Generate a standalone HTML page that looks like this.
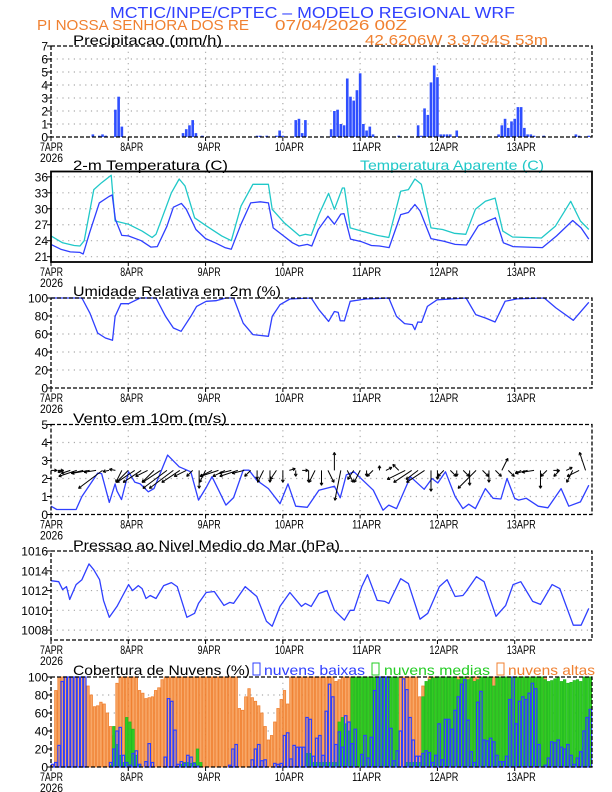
<!DOCTYPE html>
<html><head><meta charset="utf-8"><style>
html,body{margin:0;padding:0;background:#fff}
svg{display:block;font-family:"Liberation Sans",sans-serif}
</style></head><body>
<svg id="chart" width="612" height="792" viewBox="0 0 612 792" xmlns="http://www.w3.org/2000/svg">
<g id="texts">
<text x="110" y="18" font-size="16" fill="#2f3fff" textLength="405" lengthAdjust="spacingAndGlyphs">MCTIC/INPE/CPTEC – MODELO REGIONAL WRF</text>
<text x="37" y="30" font-size="15" fill="#f08030" textLength="212" lengthAdjust="spacingAndGlyphs">PI NOSSA SENHORA DOS RE</text>
<text x="275" y="30" font-size="15" fill="#f08030" textLength="132" lengthAdjust="spacingAndGlyphs">07/04/2026 00Z</text>
<text x="73" y="45" font-size="14" fill="#000" textLength="149" lengthAdjust="spacingAndGlyphs">Precipitacao (mm/h)</text>
<text x="365" y="45" font-size="15" fill="#f08030" textLength="183" lengthAdjust="spacingAndGlyphs">42.6206W 3.9794S 53m</text>
<text x="73" y="170" font-size="14" fill="#000" textLength="155" lengthAdjust="spacingAndGlyphs">2-m Temperatura (C)</text>
<text x="360" y="170" font-size="14" fill="#20c8c8" textLength="184" lengthAdjust="spacingAndGlyphs">Temperatura Aparente (C)</text>
<text x="73" y="296" font-size="14" fill="#000" textLength="208" lengthAdjust="spacingAndGlyphs">Umidade Relativa em 2m (%)</text>
<text x="73" y="423" font-size="14" fill="#000" textLength="154" lengthAdjust="spacingAndGlyphs">Vento em 10m (m/s)</text>
<text x="73" y="550" font-size="14" fill="#000" textLength="267" lengthAdjust="spacingAndGlyphs">Pressao ao Nivel Medio do Mar (hPa)</text>
<text x="73" y="675" font-size="14" fill="#000" textLength="177" lengthAdjust="spacingAndGlyphs">Cobertura de Nuvens (%)</text>
<rect x="253" y="663" width="7" height="12" fill="none" stroke="#2f3fff"/>
<text x="264" y="675" font-size="14" fill="#2f3fff" textLength="101" lengthAdjust="spacingAndGlyphs">nuvens baixas</text>
<rect x="372" y="663" width="7" height="12" fill="none" stroke="#22cc22"/>
<text x="384" y="675" font-size="14" fill="#22cc22" textLength="106" lengthAdjust="spacingAndGlyphs">nuvens medias</text>
<rect x="497" y="663" width="7" height="12" fill="none" stroke="#f08030"/>
<text x="508" y="675" font-size="14" fill="#f08030" textLength="87" lengthAdjust="spacingAndGlyphs">nuvens altas</text>
</g>
</svg>
<script>
// ---- data ----
const dayLabels = ["7APR","8APR","9APR","10APR","11APR","12APR","13APR"];
const precipHours = [13,15,16,17,20,21,22,41,42,43,44,45,47,64,65,67,70,71,72,76,77,78,79,84,87,88,89,90,91,92,93,94,95,96,97,98,99,100,108,114,115,116,117,118,119,120,121,122,123,124,126,133,139,140,141,142,143,144,145,146,147,148,149,150,153,163,164,167];
const precipValues = [0.2,0.1,0.2,0.1,2.1,3.1,0.8,0.3,0.6,0.9,1.3,0.3,0.1,0.1,0.1,0.1,0.1,0.5,0.1,1.3,1.4,0.3,1.3,0.05,0.6,2.0,2.1,1.0,0.9,4.5,3.1,2.8,3.6,4.9,1.0,0.5,0.8,0.2,0.1,0.9,0.1,2.2,1.7,4.2,5.5,4.6,0.2,0.2,0.2,0.2,0.5,0.05,0.2,0.9,1.4,0.7,1.2,1.4,2.3,2.3,0.7,0.2,0.2,0.1,0.1,0.2,0.1,0.1];
const precipTicks = [0,1,2,3,4,5,6,7];

const tempHours = [0,3,6,9,10,12,15,18,19,20,22,24,28,31,33,36,38,40.5,42,45,48,51,54,56,59,62,65,67.5,69,72,75,77,79.6,81,83,86,88,90,91,93,96.5,99.5,102,105,108.6,111,113,114.6,118,122,125.5,129,132.7,135.7,138,140.5,143.5,152.6,157,162,164.6,167];
const tempValues = [23.3,22.4,21.9,21.8,21.5,25.5,31.1,32.3,32.6,28,25,24.9,24,22.8,22.9,26.7,30.3,31,29.9,26.1,24.4,23.6,22.7,22.4,27.1,31.1,31.3,31.1,26.4,25,23.6,23,23.3,23,26.1,28.6,27.1,29,29.1,24.3,23.8,23.1,23,22.7,28.9,29.3,30.8,29.6,24.4,23.9,23.3,23.2,26.8,27.7,28.3,23.6,22.9,22.7,24.9,27.8,26.4,24.3];
const appHours = [0,3.6,7.2,9,10.3,13.3,15.7,18.7,19.9,24,28.3,31.4,32.6,37.4,39.8,41.6,44.6,48.2,53,56,59,62.7,67.5,68.7,72.4,77.2,79,80.8,83.2,86.2,88,90.5,91.1,92.9,96.5,101.3,104.9,108.6,111,113,115,118,121.6,125.2,128.8,131.8,134.9,137.9,140.3,143.3,152.3,156.6,161.4,164.4,167];
const appValues = [24.9,23.6,23.1,23,24,33.6,34.9,36.3,27.7,27.1,25.8,24.6,25.2,33,35.6,34.3,28.3,26.8,24.9,24,30.5,34.6,34.6,29.9,27.4,24.9,25.2,25,28.9,32.9,29.9,33.9,33.9,26.4,25.8,25,24.6,33.3,33.6,35.6,34.6,26.4,26.1,25.4,25.2,29.9,31.4,32,25.8,24.7,24.5,26.7,31.4,27.7,26.1];
const tempTicks = [21,24,27,30,33,36];

const rhHours = [0,9.6,12.1,14.5,16.9,19.1,19.9,21.7,24.1,27.7,32.6,35.6,38,40.4,43.4,45.2,48.2,51.2,54.3,56.7,59.7,62.7,67.5,68.7,71.1,74.2,80.8,83.2,86.2,88,89.2,89.8,91.1,92.9,97.7,104.9,107.3,109.8,112.2,113,113.9,115.1,116.9,119.9,128.9,131.9,134.9,137.9,141,144.7,153.2,156.8,162.2,167];
const rhValues = [100,100,83,61,55.6,53,79.6,93.7,93.7,100,100,79.6,66.7,63,79.6,90.7,96.3,97,100,100,72,59.3,57.4,79.6,92.6,98.9,100,87,74,85,84,74.8,74.5,96.3,98.9,100,79.6,71.5,70.5,64.8,73.3,73,90.7,98,100,81.5,77.8,73.3,96.3,99,100,89,75.2,95.2];
const rhTicks = [0,20,40,60,80,100];

const windHours = [0,1.8,7.8,9.6,11.5,14.5,15.7,18.1,19.9,20.5,21.9,24.1,26,27.7,30.2,32,36.2,39.8,43.4,45.8,48.2,50,51.8,54.3,56.7,59.7,61.5,63.9,67.5,71.1,73.6,76,79.6,83.2,88,89.8,91.7,94.1,100.1,103.1,104.9,107.3,111.6,115.9,118.3,120.1,122.5,125.5,127.9,129.7,131.8,134.9,137.3,139.7,141.6,144,145.2,147.6,151.3,154.3,158.4,160.8,164.4,167];
const windValues = [0.46,0.28,0.28,1.0,1.5,2.3,2.27,0.67,1.7,1.3,0.83,2.37,1.8,1.7,1.26,1.44,3.3,2.65,2.37,0.8,1.5,2.1,1.45,0.52,0.94,2.46,2.46,1.9,1.44,0.6,1.7,0.46,0.4,1.35,1.57,0.93,2.2,2.37,1.35,0.24,0.52,0.33,2.1,1.4,2.0,1.75,2.37,1.0,0.33,0.57,0.33,1.44,0.9,0.86,2.0,0.9,0.8,0.9,0.46,0.37,1.44,0.46,0.7,1.63];
const windTicks = [0,1,2,3,4,5];
const arrowU = [1,1,-1,-1.5,-3,-2,-3,-2,-4,-1,-1,-1,-2,-3,-3,-2,-2,-3,-4,-4,-3,-2,-1,0,-1,-2,-3,-2,-2,-3,-2,-1,0,-1,0,-1,0,1,0,1,0,-1,0,1,0,-1,1,-1,-1,0,-1,0,1,0,-1,-3,-3,-2,-3,0,0,-1,1,0,1,0,-3,1,0,1,1,1,0,-1,-2,-2,0,-1,1,-1,1,-1,-2,-1];
const arrowV = [0,0,-0.3,-0.5,-1,-0.5,-0.5,-0.3,-3,-0.2,0.2,-2,-2,-2,-2,-1,-2,-2,-3,-3,-2,-1,-1,-3,-2,-1,-1,-1,-0.5,-1,-0.5,-1,-1.5,-2,-2,-1.5,-2,0.3,-1,0,-2,-2,-2.5,-2,3,-5,-2,-1.5,-2,-1,-1,0.8,0.5,0,1,-1.5,-2,-1.5,-2,-3.5,-1.5,-1,-1,-1,-1,-2.5,-3,-1,-2,-1,2,-1,0,-0.5,-0.5,-0.3,-3,-1,0,-1,0.5,-2,-1,3];

const presHours = [0,2.4,3.6,4.8,5.8,7.8,9.6,11.8,13.3,15.1,16.3,18.1,20.5,22.3,24.1,25.3,27.1,28.3,29.5,30.8,32.6,35,37.4,39.2,42.2,44.6,45.8,48.2,50.7,53.7,55.5,56.7,60.3,63.9,66.9,68.7,71.1,74.2,77.8,79,80.8,83.2,85.7,88,91.1,92.9,94.1,96.5,98.3,101.3,103.7,104.9,108.6,111,114.6,117,120.6,123,125.5,127.9,128.9,132.1,134.5,138.2,141.2,143.5,145.9,147.2,149.6,152,155.6,158,162.2,164.6,167];
const presValues = [1013,1012.9,1012.1,1012.4,1011.1,1012.6,1013.1,1014.7,1014.1,1013.1,1011,1009.3,1010.4,1011.5,1012.6,1012,1012.5,1012.2,1011.2,1011.5,1011.2,1012.5,1012.8,1012.4,1009.3,1009.7,1010.7,1011.8,1011.9,1010.5,1010.8,1010.7,1012.4,1011.4,1008.9,1008.4,1010.4,1011.8,1010.4,1010.7,1010.4,1011.7,1012,1010,1009,1010,1010,1012.4,1013.6,1011,1010.9,1010.7,1013.2,1012.7,1009.1,1009.7,1012.4,1013.1,1011.4,1011.5,1011.9,1013.4,1012.9,1009.4,1010.5,1012.6,1012.9,1012.2,1010.9,1010.6,1012.6,1012.2,1008.5,1008.5,1010.2];
const presTicks = [1008,1010,1012,1014,1016];

const cloudHigh = [3,85,100,100,100,100,100,100,100,100,100,90,80,67,68,72,70,60,45,35,93,100,100,100,
100,100,100,85,82,76,77,78,85,88,97,100,100,100,100,100,100,100,100,100,100,100,100,100,
100,100,100,100,100,100,100,100,100,100,65,63,78,87,77,73,68,60,45,30,35,50,65,75,
85,70,100,100,100,100,100,100,100,100,100,100,100,100,100,100,95,97,100,100,100,100,100,100,
100,100,100,100,100,100,100,100,100,0,0,0,100,100,100,100,100,100,78,90,85,100,100,100,
100,100,100,100,100,100,100,100,100,100,100,100,100,100,100,100,100,100,100,100,100,100,100,100,
100,100,100,100,100,100,100,100,100,100,20,0,0,0,0,0,0,0,0,0,0,0,0,0];
const cloudMid = [0,0,0,0,0,0,0,0,0,0,0,0,0,0,0,0,0,0,2,45,25,13,5,55,
50,42,13,3,0,0,0,0,0,0,0,0,0,0,0,0,3,5,5,4,5,20,5,0,
0,0,0,0,0,0,0,0,0,0,0,0,0,0,0,0,0,0,0,0,0,0,0,0,
0,0,0,0,0,0,0,15,15,5,5,5,5,5,5,5,5,50,55,48,40,100,100,100,
100,100,100,100,100,100,100,100,100,100,100,100,0,0,5,5,5,5,5,78,95,97,99,99,
100,100,100,100,100,100,97,100,100,97,100,95,97,100,100,100,100,90,100,100,100,100,100,100,
100,100,100,100,100,100,100,100,100,97,95,96,98,100,95,97,93,94,96,97,95,100,100,100];
const cloudLow = [3,5,24,95,100,100,100,100,100,100,100,0,0,0,0,0,0,0,5,20,40,44,13,5,
2,15,18,3,0,6,26,5,0,0,0,11,76,73,41,3,6,4,13,11,4,1,0,0,
0,0,0,0,0,0,0,2,20,25,0,0,0,0,8,20,25,7,8,0,0,4,3,4,
35,38,9,24,22,22,22,55,53,12,32,35,13,62,92,78,25,39,22,57,50,26,42,0,
14,35,10,33,85,100,100,100,100,43,7,18,40,98,86,55,30,12,12,15,18,16,5,13,
48,8,53,53,42,63,78,92,97,52,17,5,72,84,30,29,32,28,13,6,6,12,75,100,
48,73,78,75,82,93,87,25,0,2,10,28,27,30,22,20,25,13,3,10,17,40,55,64];
const cloudTicks = [0,20,40,60,80,100];

// ---- layout ----
const NS = "http://www.w3.org/2000/svg";
const svg = document.getElementById('chart');
const X0 = 51, X1 = 592, HOURS = 168;
function xScale(h){ return X0 + h*(X1-X0)/HOURS; }
function mk(tag, attrs, parent){ const e = document.createElementNS(NS, tag); for (const k in attrs) e.setAttribute(k, attrs[k]); (parent||svg).appendChild(e); return e; }
function yScaleFor(p){ return v => p.bottom - (v-p.min)/(p.max-p.min)*(p.bottom-p.top); }

const panels = {
  precip:{top:46,bottom:137,min:0,max:7,ticks:precipTicks,dash:true,name:'precip'},
  temp:{top:171.5,bottom:262,min:20,max:37,ticks:tempTicks,dash:false,name:'temp'},
  rh:{top:298,bottom:388,min:0,max:100,ticks:rhTicks,dash:true,name:'rh'},
  wind:{top:424.5,bottom:514.5,min:0,max:5,ticks:windTicks,dash:true,name:'wind'},
  pres:{top:551,bottom:640,min:1007,max:1016,ticks:presTicks,dash:true,name:'pres'},
  cloud:{top:677,bottom:767,min:0,max:100,ticks:cloudTicks,dash:true,name:'cloud'}
};

function drawFrameAndGrid(p){
  const y = yScaleFor(p);
  const g = mk('g',{});
  
  
  p.ticks.forEach(t=>{
    const yy = y(t);
    if (yy>p.top+1 && yy<p.bottom-1) mk('line',{x1:X0,x2:X1,y1:yy,y2:yy,stroke:'#aaa','stroke-width':1.2,'stroke-dasharray':'1.2 4.5'},g);
    mk('line',{x1:X0-4,x2:X0,y1:yy,y2:yy,stroke:'#000','stroke-width':1},g);
    const tx = mk('text',{x:X0-3,y:yy+4.5,'font-size':12,'text-anchor':'end',fill:'#000'},svg);
    
    
    tx.textContent = t;
  });
  dayLabels.forEach((d,i)=>{
    const xx = xScale(i*24);
    if (i>0) mk('line',{x1:xx,x2:xx,y1:p.top,y2:p.bottom,stroke:'#aaa','stroke-width':1.2,'stroke-dasharray':'1.2 4.5'},g);
    mk('line',{x1:xx,x2:xx,y1:p.bottom,y2:p.bottom+4,stroke:'#000','stroke-width':1},g);
    const tx = mk('text',{x:xx+ (i==0?-11:-8),y:p.bottom+14,'font-size':12,fill:'#000',textLength:(d.length==4?23:29),lengthAdjust:'spacingAndGlyphs'},svg);
    
    
    tx.textContent = d;
  });
  const yr = mk('text',{x:X0-11,y:p.bottom+25,'font-size':12,fill:'#000',textLength:23,lengthAdjust:'spacingAndGlyphs'},svg);
  
  
  yr.textContent = '2026';
}
function drawFrame(p){
  const r = mk('rect',{x:X0,y:p.top,width:X1-X0,height:p.bottom-p.top,fill:'none',stroke:'#000','stroke-width':p.dash?1.3:1.8,'stroke-dasharray':p.dash?'4 2':'none'});
  
  
}
function drawLine(p, hours, vals, color, name){
  const y = yScaleFor(p);
  const d = hours.map((h,i)=>(i?'L':'M')+xScale(h).toFixed(1)+' '+y(vals[i]).toFixed(1)).join(' ');
  const el = mk('path',{d:d,fill:'none',stroke:color,'stroke-width':1.3,'stroke-linejoin':'round'});
  
  
}
const hw = (X1-X0)/HOURS;

Object.values(panels).forEach(drawFrameAndGrid);

// precip bars
(function(){
  const p = panels.precip, y = yScaleFor(p);
  precipHours.forEach((h,i)=>{
    const top = y(precipValues[i]);
    const b = mk('rect',{x:xScale(h)-hw/2+0.3,y:top,width:hw-0.6,height:Math.max(p.bottom-top,0.8),fill:'#2f4fff'});
    
    
  });
})();

drawLine(panels.temp, appHours, appValues, '#20c8c8', 'apparent-temperature-line');
drawLine(panels.temp, tempHours, tempValues, '#2f3fff', 'temperature-line');
drawLine(panels.rh, rhHours, rhValues, '#2f3fff', 'relative-humidity-line');
drawLine(panels.wind, windHours, windValues, '#2f3fff', 'wind-speed-line');
drawLine(panels.pres, presHours, presValues, '#2f3fff', 'pressure-line');

// wind arrows
(function(){
  const p = panels.wind, y = yScaleFor(p), k = 6, base = y(2.45);
  arrowU.forEach((u,i)=>{
    const v = arrowV[i];
    const x1 = xScale(i*2), x2 = x1 + u*k, y2 = base - v*k;
    const len = Math.hypot(x2-x1, y2-base);
    const g = mk('g',{stroke:'#000','stroke-width':1,fill:'none'});
    
    
    mk('line',{x1:x1,y1:base,x2:x2,y2:y2},g);
    if (len>1){
      const ang = Math.atan2(y2-base, x2-x1);
      [0.5,-0.5].forEach(a=>{
        mk('line',{x1:x2,y1:y2,x2:x2-3*Math.cos(ang+a),y2:y2-3*Math.sin(ang+a)},g);
      });
    }
  });
})();

// cloud bars
(function(){
  const p = panels.cloud, y = yScaleFor(p);
  function bars(arr, fill, stroke, name, sw){
    arr.forEach((v,h)=>{
      if (v<=0) return;
      const top = y(v);
      const b = mk('rect',{x:xScale(h)+0.4,y:top,width:hw-0.8,height:p.bottom-top,fill:fill,stroke:stroke,'stroke-width':sw});
      
      
    });
  }
  bars(cloudHigh,'#f8a868','#f08030','cloud-high-bar',0.8);
  bars(cloudMid,'#33cc22','#22bb22','cloud-mid-bar',0.8);
  bars(cloudLow,'none','#2f3fff','cloud-low-bar',1.2);
})();

Object.values(panels).forEach(drawFrame);
</script>
</body></html>
